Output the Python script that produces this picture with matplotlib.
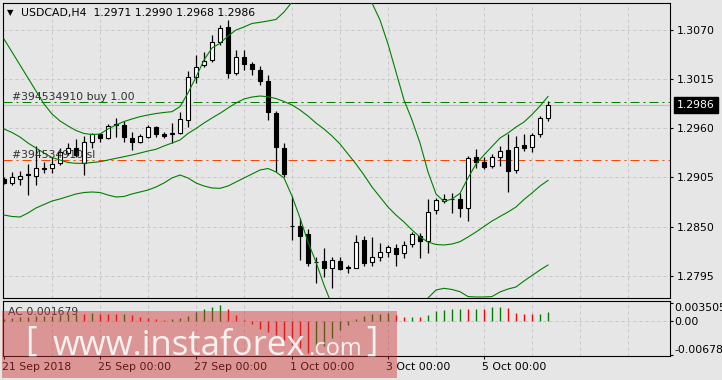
import matplotlib
matplotlib.use("Agg")
import matplotlib.pyplot as plt
from matplotlib.patches import Rectangle
from matplotlib.transforms import blended_transform_factory, ScaledTranslation

# ---------------- data ----------------
opens = [1.29027, 1.28984, 1.29036, 1.29088, 1.29066, 1.29155, 1.29152, 1.29208, 1.29320, 1.29376,
         1.29215, 1.29450, 1.29533, 1.29488, 1.29651, 1.29637, 1.29488, 1.29450, 1.29506, 1.29618,
         1.29533, 1.29539, 1.29551, 1.29693, 1.30177, 1.30305, 1.30364, 1.30569, 1.30737, 1.30215,
         1.30401, 1.30319, 1.30252, 1.30129, 1.29768, 1.29376, 1.28512, 1.28510, 1.28417, 1.28109,
         1.28115, 1.28033, 1.28115, 1.28042, 1.28033, 1.28350, 1.28100, 1.28156, 1.28219, 1.28257,
         1.28201, 1.28302, 1.28398, 1.28342, 1.28685, 1.28786, 1.28812, 1.28809, 1.28704, 1.29275,
         1.29226, 1.29181, 1.29275, 1.29354, 1.29133, 1.29413, 1.29394, 1.29533, 1.2971]
highs = [1.29055, 1.29114, 1.29125, 1.29200, 1.29402, 1.29226, 1.29279, 1.29379, 1.29439, 1.29480,
         1.29514, 1.29544, 1.29547, 1.29648, 1.29712, 1.29685, 1.29562, 1.29533, 1.29637, 1.29626,
         1.29564, 1.29656, 1.29786, 1.30238, 1.30420, 1.30450, 1.30644, 1.30756, 1.30812, 1.30476,
         1.30476, 1.30339, 1.30297, 1.30196, 1.29799, 1.29432, 1.28842, 1.28599, 1.28469, 1.28156,
         1.28257, 1.28163, 1.28156, 1.28070, 1.28406, 1.28394, 1.28383, 1.28313, 1.28294, 1.28302,
         1.28342, 1.28436, 1.28425, 1.28809, 1.28816, 1.28865, 1.28872, 1.28879, 1.29290, 1.29368,
         1.29282, 1.29312, 1.29402, 1.29533, 1.29514, 1.29533, 1.29544, 1.29737, 1.2990]
lows = [1.28976, 1.28965, 1.28965, 1.28853, 1.28965, 1.29096, 1.29103, 1.29189, 1.29301, 1.29282,
        1.29077, 1.29376, 1.29450, 1.29477, 1.29506, 1.29450, 1.29357, 1.29439, 1.29488, 1.29499,
        1.29491, 1.29435, 1.29536, 1.29618, 1.30110, 1.30289, 1.30339, 1.30532, 1.30159, 1.30196,
        1.30252, 1.30196, 1.30084, 1.29698, 1.29111, 1.29051, 1.28355, 1.28126, 1.28062, 1.27865,
        1.27932, 1.27816, 1.28019, 1.27984, 1.28031, 1.28062, 1.28062, 1.28118, 1.28156, 1.28062,
        1.28145, 1.28268, 1.28145, 1.28208, 1.28641, 1.28760, 1.28649, 1.28610, 1.28562, 1.29152,
        1.29144, 1.29159, 1.29178, 1.28890, 1.29103, 1.29349, 1.29338, 1.29506, 1.2968]
closes = [1.28993, 1.29051, 1.29063, 1.29077, 1.29155, 1.29141, 1.29200, 1.29335, 1.29383, 1.29301,
          1.29443, 1.29533, 1.29495, 1.29626, 1.29637, 1.29506, 1.29450, 1.29514, 1.29618, 1.29533,
          1.29519, 1.29544, 1.29701, 1.30171, 1.30289, 1.30356, 1.30562, 1.30719, 1.30222, 1.30394,
          1.30319, 1.30260, 1.30133, 1.29777, 1.29385, 1.29085, 1.28506, 1.28398, 1.28096, 1.28103,
          1.28040, 1.28122, 1.28022, 1.28036, 1.28331, 1.28089, 1.28156, 1.28212, 1.28271, 1.28190,
          1.28294, 1.28413, 1.28342, 1.28666, 1.28797, 1.28809, 1.28814, 1.28704, 1.29264, 1.29226,
          1.29170, 1.29282, 1.29342, 1.29125, 1.29394, 1.29383, 1.29525, 1.29712, 1.2986]

bb_upper = [1.30599, 1.30454, 1.30308, 1.30163, 1.30017, 1.29872, 1.29760, 1.29682, 1.29626, 1.29575,
            1.29542, 1.29530, 1.29536, 1.29592, 1.29637, 1.29676, 1.29704, 1.29730, 1.29749, 1.29765,
            1.29777, 1.29786, 1.29842, 1.29995, 1.30174, 1.30364, 1.30499, 1.30551, 1.30633, 1.30700,
            1.30734, 1.30773, 1.30786, 1.30801, 1.30818, 1.30901, 1.31013, 1.31125, 1.31204, 1.31260,
            1.31282, 1.31294, 1.31282, 1.31260, 1.31215, 1.31148, 1.31002, 1.30812, 1.30543, 1.30230,
            1.29917, 1.29693, 1.29435, 1.29111, 1.28865, 1.28781, 1.28809, 1.28872, 1.29044, 1.29200,
            1.29301, 1.29397, 1.29491, 1.29547, 1.29614, 1.29670, 1.29754, 1.29849, 1.29956]
bb_middle = [1.29592, 1.29553, 1.29502, 1.29435, 1.29379, 1.29323, 1.29273, 1.29245, 1.29217, 1.29208,
             1.29208, 1.29217, 1.29226, 1.29245, 1.29264, 1.29282, 1.29301, 1.29323, 1.29346, 1.29365,
             1.29402, 1.29435, 1.29469, 1.29542, 1.29598, 1.29659, 1.29715, 1.29768, 1.29827, 1.29883,
             1.29928, 1.29950, 1.29961, 1.29953, 1.29933, 1.29900, 1.29861, 1.29805, 1.29737, 1.29659,
             1.29592, 1.29514, 1.29424, 1.29312, 1.29200, 1.29077, 1.28943, 1.28831, 1.28719, 1.28629,
             1.28551, 1.28462, 1.28383, 1.28327, 1.28299, 1.28294, 1.28305, 1.28331, 1.28383, 1.28439,
             1.28501, 1.28562, 1.28613, 1.28663, 1.28719, 1.28803, 1.28876, 1.28954, 1.29016]
bb_lower = [1.28629, 1.28613, 1.28607, 1.28652, 1.28708, 1.28747, 1.28786, 1.28809, 1.28837, 1.28865,
            1.28881, 1.28887, 1.28881, 1.28853, 1.28831, 1.28837, 1.28865, 1.28887, 1.28909, 1.28943,
            1.28988, 1.29044, 1.29077, 1.29044, 1.28988, 1.28954, 1.28932, 1.28928, 1.28954, 1.28999,
            1.29044, 1.29088, 1.29133, 1.29150, 1.29111, 1.29044, 1.28842, 1.28596, 1.28327, 1.28103,
            1.27846, 1.27622, 1.27432, 1.27253, 1.27119, 1.27007, 1.26939, 1.26917, 1.26951, 1.27063,
            1.27230, 1.27432, 1.27589, 1.27701, 1.27790, 1.27809, 1.27796, 1.27771, 1.27717, 1.27712,
            1.27712, 1.27717, 1.27768, 1.27801, 1.27824, 1.27891, 1.27952, 1.28014, 1.28070]

ac_values = [0.00039, 0.00059, 0.00068, 0.00078, 0.00084, 0.00092, 0.00102, 0.00111, 0.00123, 0.00137,
             0.00131, 0.00147, 0.00137, 0.00135, 0.00133, 0.00137, 0.00104, 0.00065, 0.00045, 0.00033,
             0.00020, 0.00033, 0.00059, 0.00084, 0.00162, 0.00221, 0.00274, 0.00305, 0.00240, 0.00113,
             0.00016, -0.00066, -0.00164, -0.00215, -0.00282, -0.00371, -0.00479, -0.00542, -0.00639, -0.00567,
             -0.00499, -0.00332, -0.00184, -0.00088, 0.00031, 0.00094, 0.00127, 0.00129, 0.00147, 0.00109,
             0.00078, 0.00080, 0.00076, 0.00113, 0.00188, 0.00217, 0.00235, 0.00239, 0.00235, 0.00238,
             0.00234, 0.00262, 0.00278, 0.00242, 0.00160, 0.00141, 0.00127, 0.00130, 0.001679]

price_ticks = [1.3070, 1.3015, 1.2960, 1.2905, 1.2850, 1.2795]
date_tick_bars = [0, 12, 24, 36, 48, 60]
date_labels = ["21 Sep 2018", "25 Sep 00:00", "27 Sep 00:00", "1 Oct 00:00", "3 Oct 00:00", "5 Oct 00:00"]
buy_price = 1.2989
sl_price = 1.2924
bid_price = 1.2986
buy_label = "#394534910 buy 1.00"
sl_label = "#394534910 sl"
ac_ticks = [0.003505, 0.0, -0.00678]
ac_tick_labels = ["0.003505", "0.00", "-0.00678"]
ac_label = "AC 0.001679"
title = "USDCAD,H4  1.2971 1.2990 1.2968 1.2986"

# ---------------- figure ----------------
W, H = 722, 380
BG = "#e6e6e6"
GRID = "#c6c6c6"
GREEN = "#008000"
FS = 7.8
plt.rcParams["font.family"] = ["DejaVu Sans"]

fig = plt.figure(figsize=(W / 100, H / 100), dpi=100, facecolor=BG)
ax = fig.add_axes([3 / W, 1 - 298 / H, 667 / W, 295 / H])
ax2 = fig.add_axes([3 / W, 1 - 356.3 / H, 667 / W, 55.8 / H])

n = len(closes)
idx = list(range(n))
XMIN, XMAX = -0.125, 83.25

for a in (ax, ax2):
    a.set_facecolor(BG)
    a.set_xlim(XMIN, XMAX)
    for s in a.spines.values():
        s.set_color("black")
        s.set_linewidth(0.8)
    for b in range(6, 84, 6):
        a.axvline(b, color=GRID, lw=0.72, ls=(0, (3, 3)), zorder=0.5)

# ---------------- main price panel ----------------
ax.set_ylim(1.277006, 1.310022)
for t in price_ticks:
    ax.axhline(t, color=GRID, lw=0.72, ls=(0, (3, 3)), zorder=0.5)

ax.axhline(bid_price, color="#c0c0c0", lw=0.8, zorder=1.2)
ax.axhline(buy_price, color=GREEN, lw=0.72, ls=(0, (9, 4, 2, 4)), zorder=1.4)
ax.axhline(sl_price, color="#ff4500", lw=0.72, ls=(0, (9, 4, 2, 4)), zorder=1.4)

ax.vlines(idx, lows, highs, color="black", lw=0.9, zorder=2)
bw = 0.5
for i in idx:
    o, c = opens[i], closes[i]
    lo, hi = min(o, c), max(o, c)
    fc = "white" if c >= o else "black"
    ax.add_patch(Rectangle((i - bw / 2, lo), bw, hi - lo, facecolor=fc,
                           edgecolor="black", lw=0.8, zorder=3))

for band in (bb_upper, bb_middle, bb_lower):
    ax.plot(idx, band, color=GREEN, lw=0.8, zorder=4)

ax.annotate(buy_label, xy=(9 / 667, buy_price), xycoords=("axes fraction", "data"),
            xytext=(0, 2), textcoords="offset pixels", ha="left", va="baseline",
            fontsize=FS, color="#303030", zorder=6)
ax.annotate(sl_label, xy=(9 / 667, sl_price), xycoords=("axes fraction", "data"),
            xytext=(0, 2), textcoords="offset pixels", ha="left", va="baseline",
            fontsize=FS, color="#303030", zorder=6)

ax.set_xticks([])
ax.yaxis.tick_right()
ax.set_yticks(price_ticks)
ax.set_yticklabels([f"{t:.4f}" for t in price_ticks])
ax.tick_params(axis="y", direction="out", length=2.2, width=0.8, pad=2.7,
               labelsize=FS, colors="black")

btr = blended_transform_factory(ax.transAxes, ax.transData)
ax.text(1 + 7 / 667, bid_price, f"{bid_price:.4f}", transform=btr, ha="left", va="center",
        fontsize=FS, color="white", clip_on=False, zorder=10,
        bbox=dict(boxstyle="square,pad=0.28", fc="black", ec="black"))

# title
fig.text(7 / W, 1 - 12.7 / H, "\u25bc", fontsize=6, ha="left", va="center", color="black")
fig.text(21 / W, 1 - 12.7 / H, title, fontsize=FS, ha="left", va="center", color="black")

# ---------------- AC panel ----------------
ax2.set_ylim(-0.00698, 0.003974)
ax2.axhline(0, color=GRID, lw=0.72, ls=(0, (3, 3)), zorder=0.5)
colors = [GREEN if (i == 0 or ac_values[i] > ac_values[i - 1]) else "#ff0000" for i in idx]
ax2.vlines(idx, 0, ac_values, colors=colors, lw=1.0, zorder=2)

ax2.yaxis.tick_right()
ax2.set_yticks(ac_ticks)
ax2.set_yticklabels(ac_tick_labels)
ax2.tick_params(axis="y", direction="out", length=2.2, width=0.8, pad=0.8,
                labelsize=FS, colors="black")
ylabs = ax2.get_yticklabels()
ylabs[0].set_va("top")
ylabs[2].set_va("bottom")

ax2.set_xticks(date_tick_bars)
ax2.set_xticklabels(date_labels)
ax2.tick_params(axis="x", direction="out", length=2.2, width=0.8, pad=1.6,
                labelsize=FS, colors="black")
shift = ScaledTranslation(-2 / 100, 0, fig.dpi_scale_trans)
for lab in ax2.get_xticklabels():
    lab.set_ha("left")
    lab.set_transform(lab.get_transform() + shift)

ax2.text(5 / 667, (356.3 - 311.7) / 55.8, ac_label, transform=ax2.transAxes,
         ha="left", va="center", fontsize=FS, color="#303030", zorder=6)

# ---------------- watermark ----------------
fig.add_artist(Rectangle((2 / W, 1 - 377.7 / H), 395 / W, (377.7 - 311) / H,
                         transform=fig.transFigure, facecolor=(0.82, 0.2, 0.2, 0.45),
                         edgecolor="none", zorder=20))
wm = dict(color="white", alpha=0.88, zorder=21, family="Open Sans")
fig.text(25 / W, 1 - 341.7 / H, "[", fontsize=25, ha="left", va="center", **wm)
fig.text(53 / W, 1 - 355 / H, "www.instaforex", fontsize=25, ha="left", va="baseline", **wm)
fig.text(308 / W, 1 - 355 / H, ".com", fontsize=17, ha="left", va="baseline", **wm)
fig.text(366 / W, 1 - 341.7 / H, "]", fontsize=25, ha="left", va="center", **wm)

fig.savefig("out.png", dpi=100, facecolor=BG)
